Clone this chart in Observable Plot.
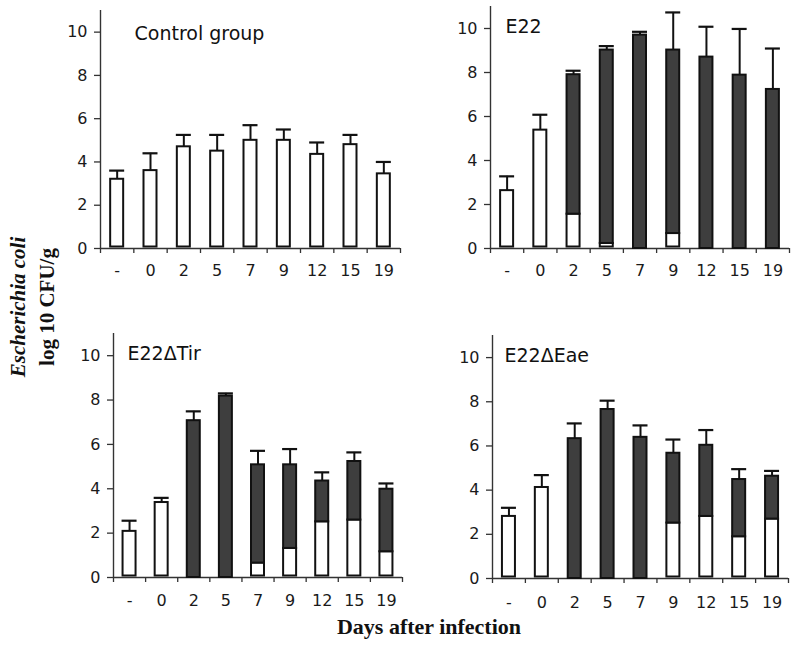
<!DOCTYPE html>
<html><head><meta charset="utf-8">
<script src="https://cdn.jsdelivr.net/npm/d3@7"></script>
<script src="https://cdn.jsdelivr.net/npm/@observablehq/plot@0.6"></script>
<style>
body{margin:0;background:#fff;}
#wrap{position:relative;width:800px;height:645px;overflow:hidden;background:#fff;}
.panel{position:absolute;}
.lab{position:absolute;font-family:"Liberation Serif","Times New Roman",serif;font-weight:bold;white-space:nowrap;color:#111;transform:translate(-50%,-50%);}
.rot{transform:translate(-50%,-50%) rotate(-90deg);}
</style></head>
<body><div id="wrap"></div>
<script>
const days = ["-","0","2","5","7","9","12","15","19"];
const yTicks = [0,2,4,6,8,10];

const controlTotal = [3.2,3.6,4.7,4.5,5.0,5.0,4.35,4.8,3.45];
const controlWhite = [3.2,3.6,4.7,4.5,5.0,5.0,4.35,4.8,3.45];
const controlErr   = [3.6,4.4,5.25,5.25,5.7,5.5,4.9,5.25,4.0];

const e22Total = [2.63,5.38,7.9,9.02,9.7,9.02,8.7,7.88,7.23];
const e22White = [2.63,5.38,1.56,0.23,0,0.68,0,0,0];
const e22Err   = [3.28,6.08,8.08,9.2,9.85,10.73,10.08,9.98,9.09];

const tirTotal = [2.08,3.38,7.07,8.18,5.08,5.08,4.35,5.23,3.98];
const tirWhite = [2.08,3.38,0,0,0.65,1.31,2.51,2.59,1.16];
const tirErr   = [2.56,3.59,7.49,8.3,5.71,5.79,4.74,5.64,4.24];

const eaeTotal = [2.81,4.12,6.33,7.65,6.39,5.67,6.03,4.48,4.63];
const eaeWhite = [2.81,4.12,0,0,0,2.51,2.81,1.89,2.69];
const eaeErr   = [3.2,4.68,7.02,8.05,6.93,6.29,6.72,4.95,4.87];

const wrap = document.getElementById("wrap");

function makePanel(cfg) {
  const {title, total, white, err, left, top, width, height, mL, mR, mT, mB, tickPad, tdx, tdy} = cfg;
  const rows = days.map((d, i) => ({i, day: d, total: total[i], white: white[i], err: err[i]}));
  const whiteRows = rows.filter(r => r.white > 0);
  const darkRows = rows.filter(r => r.total > r.white);
  const band = (width - mL - mR) / days.length;
  const barInset = (band - 13) / 2;
  const capInset = (band - 15) / 2;
  const ink = "#111";
  const plot = Plot.plot({
    width, height,
    marginLeft: mL, marginRight: mR, marginTop: mT, marginBottom: mB,
    style: {fontFamily: "'DejaVu Sans', sans-serif", fontSize: "16px", color: "#1a1a1a", background: "transparent", overflow: "visible"},
    x: {domain: [0, days.length], axis: null},
    y: {domain: [0, 11], axis: null},
    marks: [
      Plot.axisX({ticks: d3.range(0, days.length + 1), tickFormat: () => "", tickSize: 5, strokeWidth: 1.3, stroke: "#333", label: null}),
      Plot.axisX({ticks: rows.map(r => r.i + 0.5), tickFormat: v => days[Math.floor(v)], tickSize: 0, tickPadding: tickPad, fontSize: 16, label: null}),
      Plot.axisY({ticks: yTicks, tickSize: 6, tickPadding: 7, fontSize: 16, strokeWidth: 1.3, stroke: "#333", label: null}),
      Plot.ruleX([0], {y1: 0, y2: 11, stroke: "#333", strokeWidth: 1.4}),
      Plot.ruleY([0], {stroke: "#333", strokeWidth: 1.4}),
      Plot.ruleX(rows, {x: r => r.i + 0.5, y1: "total", y2: "err", stroke: ink, strokeWidth: 2}),
      Plot.ruleY(rows, {x1: "i", x2: r => r.i + 1, y: "err", insetLeft: capInset, insetRight: capInset, stroke: ink, strokeWidth: 2.2}),
      Plot.rect(whiteRows, {x1: "i", x2: r => r.i + 1, y1: 0, y2: "white", fill: "white", stroke: ink, strokeWidth: 2, insetLeft: barInset, insetRight: barInset, insetBottom: 1.5}),
      Plot.rect(darkRows, {x1: "i", x2: r => r.i + 1, y1: "white", y2: "total", fill: "#3e3e3e", stroke: ink, strokeWidth: 2, insetLeft: barInset, insetRight: barInset}),
      Plot.text([title], {frameAnchor: "top-left", dx: tdx, dy: tdy, textAnchor: "start", lineAnchor: "middle", fontSize: 19, fill: "#111"})
    ]
  });
  const div = document.createElement("div");
  div.className = "panel";
  div.style.left = left + "px";
  div.style.top = top + "px";
  div.appendChild(plot);
  wrap.appendChild(div);
}

makePanel({title: "Control group", total: controlTotal, white: controlWhite, err: controlErr,
  left: 0, top: 0, width: 402, height: 290, mL: 100, mR: 2, mT: 10, mB: 42, tickPad: 16, tdx: 34, tdy: 23});
makePanel({title: "E22", total: e22Total, white: e22White, err: e22Err,
  left: 400, top: 0, width: 400, height: 290, mL: 90, mR: 11, mT: 6, mB: 42, tickPad: 16, tdx: 15, tdy: 20});
makePanel({title: "E22ΔTir", total: tirTotal, white: tirWhite, err: tirErr,
  left: 0, top: 320, width: 410, height: 300, mL: 113, mR: 8, mT: 13, mB: 43, tickPad: 17, tdx: 14, tdy: 20});
makePanel({title: "E22ΔEae", total: eaeTotal, white: eaeWhite, err: eaeErr,
  left: 400, top: 320, width: 400, height: 300, mL: 92, mR: 12, mT: 15, mB: 42, tickPad: 18, tdx: 12, tdy: 20});

function addLabel(html, x, y, size, rotate) {
  const d = document.createElement("div");
  d.className = "lab" + (rotate ? " rot" : "");
  d.style.left = x + "px";
  d.style.top = y + "px";
  d.style.fontSize = size + "px";
  d.innerHTML = html;
  wrap.appendChild(d);
}
addLabel("<i>Escherichia coli</i>", 18, 307, 21, true);
addLabel("log 10 CFU/g", 47, 307, 21, true);
addLabel("Days after infection", 429, 627, 22, false);
</script>
</body></html>
